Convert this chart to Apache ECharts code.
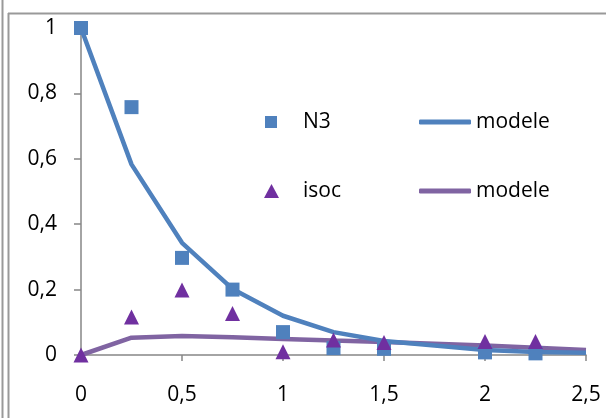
<!DOCTYPE html>
<html><head><meta charset="utf-8">
<script src="https://cdn.jsdelivr.net/npm/echarts@6/dist/echarts.min.js"></script>
<style>html,body{margin:0;padding:0;background:#fff}#c{width:606px;height:418px}</style>
</head><body><div id="c"></div>
<script>
const xN3 = [0, 0.25, 0.5, 0.75, 1, 1.25, 1.5, 2, 2.25];
const yN3 = [1.0, 0.758, 0.297, 0.2, 0.07, 0.021, 0.019, 0.008, 0.005];
const xIsoc = [0, 0.25, 0.5, 0.75, 1, 1.25, 1.5, 2, 2.25];
const yIsoc = [0, 0.116, 0.199, 0.127, 0.01, 0.046, 0.038, 0.041, 0.041];
const xModel = [0, 0.25, 0.5, 0.75, 1, 1.25, 1.5, 2, 2.25, 2.5];
const yModelN3 = [1.0, 0.583, 0.343, 0.202, 0.12, 0.07, 0.043, 0.015, 0.009, 0.007];
const yModelIsoc = [0, 0.053, 0.058, 0.054, 0.049, 0.044, 0.04, 0.029, 0.022, 0.015];
const yTicks = [0, 0.2, 0.4, 0.6, 0.8, 1];
const xTicks = [0, 0.5, 1, 1.5, 2, 2.5];

const zip = (xs, ys) => xs.map((x, i) => [x, ys[i]]);
const comma = v => String(+v.toFixed(2)).replace('.', ',');
const FONT = 'Open Sans';
const BLUE = '#4F81BD', PURPLE_L = '#8064A2', PURPLE_M = '#7030A0';

const chart = echarts.init(document.getElementById('c'), null, {renderer: 'canvas'});
const legendText = {fontFamily: FONT, fontSize: 21, color: '#000', lineHeight: 22};
chart.setOption({
  animation: false,
  backgroundColor: '#fff',
  grid: {left: 81, right: 20, top: 28, bottom: 63},
  xAxis: {
    type: 'value', min: 0, max: 2.5, interval: 0.5,
    axisLine: {lineStyle: {color: '#868686', width: 1.5}},
    axisTick: {show: true, length: 6, lineStyle: {color: '#868686', width: 1.5}},
    axisLabel: {fontFamily: FONT, fontSize: 21, color: '#000', margin: 30, formatter: comma},
    splitLine: {show: false}
  },
  yAxis: {
    type: 'value', min: 0, max: 1, interval: 0.2,
    axisLine: {show: true, lineStyle: {color: '#868686', width: 1.5}},
    axisTick: {show: true, length: 7, lineStyle: {color: '#868686', width: 1.5}},
    axisLabel: {fontFamily: FONT, fontSize: 21, color: '#000', margin: 24, formatter: comma},
    splitLine: {show: false}
  },
  legend: [
    {left: 265, top: 111, padding: 0, itemWidth: 12, itemHeight: 12, icon: 'rect', data: ['N3'],
     textStyle: Object.assign({padding: [0, 0, 0, 21]}, legendText)},
    {left: 419, top: 111, padding: 0, itemWidth: 52, itemHeight: 5, icon: 'roundRect', data: ['modele'],
     textStyle: legendText},
    {left: 264, top: 180, padding: 0, itemWidth: 15, itemHeight: 14, icon: 'triangle', data: ['isoc'],
     textStyle: Object.assign({padding: [0, 0, 0, 19]}, legendText)},
    {left: 419, top: 180, padding: 0, itemWidth: 52, itemHeight: 5, icon: 'roundRect', data: ['modele '],
     textStyle: legendText}
  ],
  series: [
    {name: 'modele ', type: 'line', data: zip(xModel, yModelIsoc), showSymbol: false, symbol: 'none',
     lineStyle: {color: PURPLE_L, width: 4.5}, itemStyle: {color: PURPLE_L}, z: 2},
    {name: 'modele', type: 'line', data: zip(xModel, yModelN3), showSymbol: false, symbol: 'none',
     lineStyle: {color: BLUE, width: 4.5}, itemStyle: {color: BLUE}, z: 3},
    {name: 'N3', type: 'scatter', data: zip(xN3, yN3), symbol: 'rect', symbolSize: 14,
     itemStyle: {color: BLUE, opacity: 1}, z: 4},
    {name: 'isoc', type: 'scatter', data: zip(xIsoc, yIsoc), symbol: 'triangle', symbolSize: 15,
     itemStyle: {color: PURPLE_M, opacity: 1}, z: 5}
  ],
  graphic: [
    {type: 'line', shape: {x1: 2.5, y1: 0, x2: 2.5, y2: 418}, style: {stroke: '#999', lineWidth: 2}},
    {type: 'line', shape: {x1: 8.5, y1: 13, x2: 8.5, y2: 418}, style: {stroke: '#999', lineWidth: 2}},
    {type: 'line', shape: {x1: 8, y1: 13.5, x2: 606, y2: 13.5}, style: {stroke: '#999', lineWidth: 2}}
  ]
});
</script></body></html>
